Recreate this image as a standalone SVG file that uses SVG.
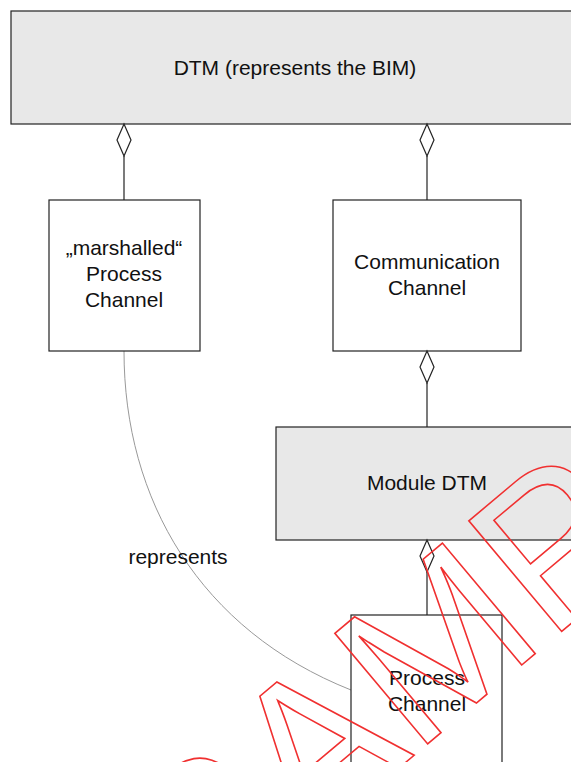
<svg xmlns="http://www.w3.org/2000/svg" width="571" height="762" viewBox="0 0 571 762">
<style>
.box{stroke:#222;stroke-width:1.2}
.g{fill:#e8e8e8}
.w{fill:#fff}
.t{font-family:"Liberation Sans",Arial,sans-serif;font-size:21px;fill:#111;text-anchor:middle}
.ln{stroke:#222;stroke-width:1.2;fill:none}
.dia{fill:#fff;stroke:#222;stroke-width:1.2}
.wm{font-family:"Liberation Sans",Arial,sans-serif;font-size:210px;fill:none;stroke:#f03030;stroke-width:1.6}
</style>
<defs>
<path id="dm" d="M0,0 L7,16 L0,32 L-7,16 Z"/>
</defs>
<rect width="571" height="762" fill="#fff"/>
<g id="connectors">
<line class="ln" x1="124" y1="156" x2="124" y2="200"/>
<line class="ln" x1="427" y1="156" x2="427" y2="200"/>
<line class="ln" x1="427" y1="383" x2="427" y2="427"/>
<line class="ln" x1="427" y1="572" x2="427" y2="615"/>
<path d="M124,351 C124,500 200,630 351,690" fill="none" stroke="#999" stroke-width="1"/>
<text class="t" x="178" y="564">represents</text>
</g>
<g id="dtm">
<rect class="box g" x="11" y="11" width="575" height="113"/>
<text class="t" x="295" y="75">DTM (represents the BIM)</text>
</g>
<g id="marshalled">
<rect class="box w" x="49" y="200" width="151" height="151"/>
<text class="t" x="124" y="255">„marshalled“</text>
<text class="t" x="124" y="281">Process</text>
<text class="t" x="124" y="307">Channel</text>
</g>
<g id="comm">
<rect class="box w" x="333" y="200" width="188" height="151"/>
<text class="t" x="427" y="269">Communication</text>
<text class="t" x="427" y="295">Channel</text>
</g>
<g id="module">
<rect class="box g" x="276" y="427" width="310" height="113"/>
<text class="t" x="427" y="490">Module DTM</text>
</g>
<g id="process">
<rect class="box w" x="351" y="615" width="151" height="160"/>
<text class="t" x="427" y="685">Process</text>
<text class="t" x="427" y="711">Channel</text>
</g>
<g id="diamonds">
<use href="#dm" class="dia" x="124" y="124"/>
<use href="#dm" class="dia" x="427" y="124"/>
<use href="#dm" class="dia" x="427" y="351"/>
<use href="#dm" class="dia" x="427" y="540"/>
</g>
<text class="wm" transform="translate(200,935) rotate(-40)">SAMPLE</text>
</svg>
